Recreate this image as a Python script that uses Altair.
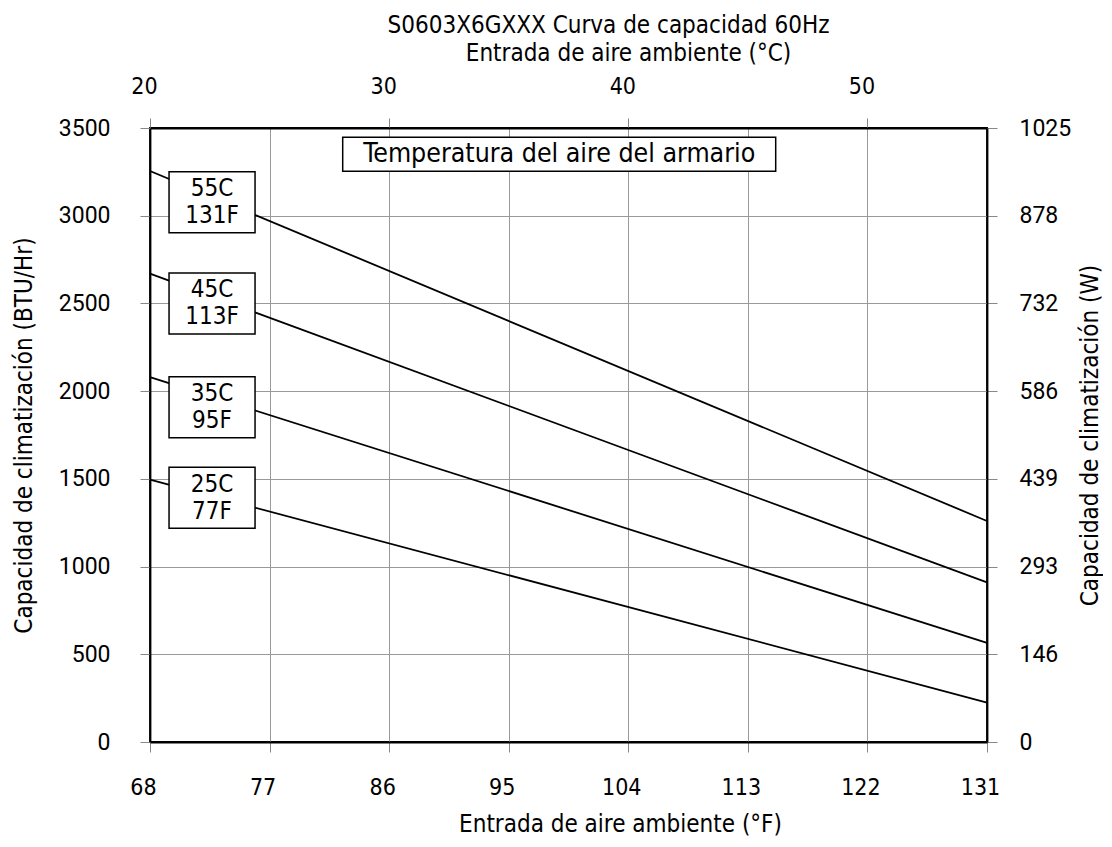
import altair as alt
import pandas as pd

# ---- data ----
ambient_f = [68, 131]
series_names = ["55C", "45C", "35C", "25C"]
series_start = [3255, 2670, 2080, 1495]   # BTU/Hr at 68 F
series_end = [1260, 910, 565, 225]        # BTU/Hr at 131 F

label_c = ["55C", "45C", "35C", "25C"]
label_f = ["131F", "113F", "95F", "77F"]
label_x = [72.67, 72.67, 72.67, 72.67]
label_y = [3077, 2500, 1908, 1393]

header_text = ["Temperatura del aire del armario"]
header_x = [98.8]
header_y = [3350]

f_ticks = [68, 77, 86, 95, 104, 113, 122, 131]
c_ticks = [20, 30, 40, 50]
btu_ticks = [0, 500, 1000, 1500, 2000, 2500, 3000, 3500]
w_labels = ["0", "146", "293", "439", "586", "732", "878", "1025"]

rows = []
for n, s, e in zip(series_names, series_start, series_end):
    rows.append({"serie": n, "F": ambient_f[0], "BTU": s})
    rows.append({"serie": n, "F": ambient_f[1], "BTU": e})
lines_df = pd.DataFrame(rows)
labels_df = pd.DataFrame({"c": label_c, "f": label_f, "x": label_x, "y": label_y})
header_df = pd.DataFrame({"t": header_text, "x": header_x, "y": header_y})

NARROW = "DejaVu Sans Condensed"
ROUND = "Roboto"

xs = alt.Scale(domain=[68, 131], nice=False, zero=False)
ys = alt.Scale(domain=[0, 3500], nice=False, zero=True)

lines = alt.Chart(lines_df).mark_line(color="black", strokeWidth=1.8).encode(
    x=alt.X("F:Q", scale=xs,
            axis=alt.Axis(values=f_ticks, orient="bottom", grid=True,
                          title="Entrada de aire ambiente (°F)",
                          labelFont=NARROW, labelFontSize=23,
                          labelFlush=False, labelOffset=-7,
                          labelPadding=24, titlePadding=13,
                          titleFontSize=24, titleX=470)),
    y=alt.Y("BTU:Q", scale=ys,
            axis=alt.Axis(values=btu_ticks, orient="left", grid=True, format="d",
                          title="Capacidad de climatización (BTU/Hr)",
                          labelFont=ROUND, labelFontSize=23, labelFlush=False,
                          labelPadding=30, titlePadding=22, titleFontSize=24)),
    detail="serie:N",
)

boxes = alt.Chart(labels_df).mark_rect(
    width=86, height=61, fill="white", stroke="black", strokeWidth=1.5
).encode(
    x=alt.X("x:Q", scale=xs,
            axis=alt.Axis(values=[c * 9 / 5 + 32 for c in c_ticks], orient="top",
                          grid=False,
                          labelExpr="format((datum.value-32)*5/9, 'd')",
                          title="Entrada de aire ambiente (°C)",
                          labelFont=NARROW, labelFontSize=23,
                          labelFlush=False, labelOffset=-6,
                          labelPadding=20, titlePadding=10,
                          titleFontSize=24, titleX=478)),
    y=alt.Y("y:Q", scale=ys,
            axis=alt.Axis(values=btu_ticks, orient="right", grid=False,
                          labelExpr="%s[round(datum.value/500)]" % str(w_labels),
                          title="Capacidad de climatización (W)",
                          labelFont=ROUND, labelFontSize=23, labelFlush=False,
                          labelPadding=22, titlePadding=8, titleAngle=270,
                          titleBaseline="top", titleFontSize=24)),
)

text_c = alt.Chart(labels_df).mark_text(
    font=NARROW, fontSize=24, dy=-13, color="black"
).encode(
    x=alt.X("x:Q", scale=xs, axis=None),
    y=alt.Y("y:Q", scale=ys, axis=None),
    text="c:N",
)
text_f = alt.Chart(labels_df).mark_text(
    font=NARROW, fontSize=24, dy=14, color="black"
).encode(
    x=alt.X("x:Q", scale=xs, axis=None),
    y=alt.Y("y:Q", scale=ys, axis=None),
    text="f:N",
)

header_box = alt.Chart(header_df).mark_rect(
    width=433, height=34, fill="white", stroke="black", strokeWidth=1.5
).encode(
    x=alt.X("x:Q", scale=xs, axis=None),
    y=alt.Y("y:Q", scale=ys, axis=None),
)
header_txt = alt.Chart(header_df).mark_text(
    font=NARROW, fontSize=26.5, color="black"
).encode(
    x=alt.X("x:Q", scale=xs, axis=None),
    y=alt.Y("y:Q", scale=ys, axis=None),
    text="t:N",
)

chart = alt.layer(lines, boxes, text_c, text_f, header_box, header_txt).resolve_axis(
    x="independent", y="independent"
).properties(
    width=837, height=614,
    title=alt.Title("S0603X6GXXX Curva de capacidad 60Hz", anchor="middle",
                    dx=40, offset=3, font=NARROW, fontSize=24,
                    fontWeight="normal", color="black"),
    autosize=alt.AutoSizeParams(type="none"),
    padding={"left": 142, "top": 120, "right": 116, "bottom": 95},
).configure_axis(
    domainColor="black", domainWidth=1.8,
    tickColor="#888888", tickSize=10, tickWidth=1,
    gridColor="#999999", gridWidth=1,
    labelColor="black", titleColor="black",
    titleFont=NARROW, titleFontWeight="normal",
).configure_view(stroke="black", strokeWidth=1.8)

chart.save("out.html", embed_options={"renderer": "svg", "actions": False})
